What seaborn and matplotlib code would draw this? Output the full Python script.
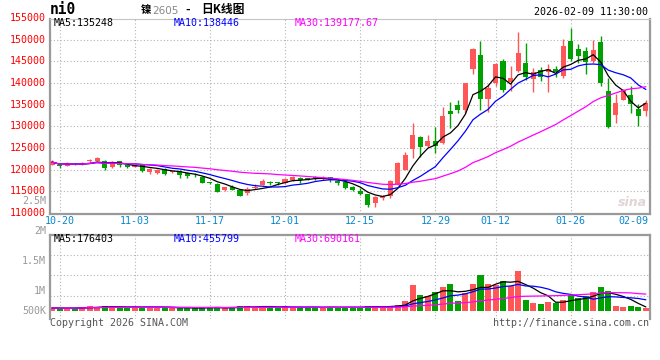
import numpy as np
import pandas as pd
import matplotlib
matplotlib.use("Agg")
import matplotlib.pyplot as plt
import seaborn as sns

# --- daily K-line data (10-17 .. 02-09) ---
opens = [121200, 121150, 120950, 121300, 121250, 122100, 122000, 122100, 120600, 121950,
         121000, 120700, 121000, 119550, 119200, 120300, 119400, 119700, 119300, 118900,
         118400, 117050, 116800, 115300, 116120, 115230, 114550, 115750, 116420, 117010,
         117050, 116860, 117540, 118210, 118000, 118150, 117900, 118350, 117500, 117260,
         116100, 115150, 114390, 112240, 113400, 114000, 116700, 119930, 124770, 127620,
         125470, 126620, 126230, 133460, 134930, 133770, 143240, 146470, 136310, 139940,
         145080, 140230, 142810, 144700, 140920, 143040, 142660, 143190, 141670, 149620,
         147960, 147350, 145160, 149390, 138110, 132670, 136070, 137360, 133950, 133570]
highs = [122200, 121300, 121900, 121500, 121700, 122600, 122900, 122200, 121950, 122000,
         121100, 121150, 121050, 120450, 120150, 120400, 119800, 119850, 119400, 119200,
         118500, 117250, 116900, 116100, 116420, 115670, 116120, 116640, 117990, 117310,
         117300, 118210, 118660, 118300, 118100, 118600, 118600, 118400, 117700, 117400,
         116300, 115700, 114500, 114000, 114150, 117700, 121840, 124150, 130700, 127800,
         128000, 129920, 134400, 135690, 136080, 140100, 148000, 149700, 139770, 144550,
         145460, 144020, 151740, 149240, 143420, 143800, 144320, 144020, 150230, 152650,
         149090, 148330, 150000, 150980, 141140, 137580, 138720, 139400, 135090, 136070]
lows = [121000, 120400, 120900, 121100, 121200, 121700, 121950, 120000, 120500, 120700,
        120450, 120600, 119550, 119100, 119000, 118850, 119300, 118200, 118100, 118300,
        116900, 116700, 114780, 115150, 115300, 113900, 114250, 115520, 116400, 116500,
        116600, 116800, 117500, 117010, 117600, 117550, 117600, 117300, 116400, 115600,
        115200, 114150, 111460, 111460, 113000, 113600, 116500, 119900, 122620, 123000,
        125300, 123920, 126000, 129690, 133000, 133000, 142010, 133770, 133380, 139250,
        138000, 138110, 142500, 140760, 137890, 140380, 137890, 141520, 141140, 145000,
        144550, 142130, 144700, 139250, 129700, 130770, 136000, 133040, 130170, 132440]
closes = [121800, 120800, 121400, 121250, 121450, 122200, 122700, 120500, 121600, 121050,
          120650, 121000, 119700, 120300, 120000, 119100, 119650, 118900, 118600, 118700,
          116950, 117000, 114950, 115970, 115380, 114030, 115670, 116120, 117310, 116940,
          116980, 117910, 118360, 117760, 117750, 118100, 118150, 117750, 116850, 115770,
          115350, 114390, 111850, 113630, 114000, 117460, 121610, 123390, 128000, 125300,
          126620, 125470, 132390, 132780, 133770, 139940, 147850, 136310, 138780, 144320,
          138340, 141140, 146970, 141370, 142510, 141520, 143190, 142660, 148560, 145610,
          146290, 144780, 147580, 140010, 129790, 135470, 138490, 135240, 132440, 135310]
volumes = [150000, 130000, 130000, 150000, 180000, 230000, 180000, 230000, 180000, 180000,
           180000, 180000, 180000, 180000, 180000, 180000, 130000, 130000, 180000, 130000,
           180000, 180000, 180000, 130000, 180000, 230000, 230000, 180000, 230000, 180000,
           130000, 230000, 130000, 180000, 180000, 180000, 180000, 180000, 177000, 177000,
           177000, 177000, 235000, 235000, 177000, 235000, 279000, 456000, 1165000, 722000,
           678000, 868000, 1090000, 1210000, 470000, 797000, 1210000, 1610000, 1210000, 1165000,
           1340000, 1120000, 1800000, 500000, 381000, 323000, 425000, 381000, 500000, 722000,
           576000, 678000, 868000, 1090000, 912000, 220000, 190000, 215000, 205000, 140000]

tick_labels = ["10-20", "11-03", "11-17", "12-01", "12-15", "12-29", "01-12", "01-26", "02-09"]
tick_days = [1, 11, 21, 31, 41, 51, 59, 69, 79]
price_ticks = [155000, 150000, 145000, 140000, 135000, 130000, 125000, 120000, 115000, 110000]

ma_text = ["MA5:135248", "MA10:138446", "MA30:139177.67"]
vma_text = ["MA5:176403", "MA10:455799", "MA30:690161"]
vol_axis_text = ["2.5M", "2M", "1.5M", "1M", "500K"]

UP = "#ff5757"
DOWN = "#00a000"
MA_COLORS = ["black", "#0000ff", "#ff00ff"]
GRID = "#b4b4b4"
BORDER = "#9a9a9a"
MONO = "DejaVu Sans Mono"

df = pd.DataFrame({"open": opens, "high": highs, "low": lows, "close": closes, "vol": volumes})
df["day"] = np.arange(len(df))
df["dir"] = np.where(df["close"] >= df["open"], "up", "down")
for n in (5, 10, 30):
    df[f"ma{n}"] = df["close"].rolling(n, min_periods=1).mean()
    df[f"vma{n}"] = df["vol"].rolling(n, min_periods=1).mean()

sns.set_theme(style="white")
plt.rcParams["font.family"] = [MONO, "Noto Sans CJK SC"]

W, H = 660, 360
fig = plt.figure(figsize=(W / 100, H / 100), dpi=100)
ax = fig.add_axes([50 / W, 1 - 214 / H, 600 / W, 195 / H])
axv = fig.add_axes([50 / W, 1 - 318.5 / H, 600 / W, 83.5 / H])


def ftext(x, y, s, **kw):
    # text placed in figure pixels (origin top-left like the screenshot)
    kw.setdefault("fontfamily", MONO)
    kw.setdefault("fontsize", 7.2)
    kw.setdefault("va", "center")
    fig.text(x / W, 1 - y / H, s, **kw)


# --- price panel ---
xlim = (-0.27, 79.55)
for d in tick_days[:-1]:
    ax.axvline(d, color=GRID, lw=0.8, ls=(0, (1, 2)), zorder=0)
    axv.axvline(d, color=GRID, lw=0.8, ls=(0, (1, 2)), zorder=0)
for v in price_ticks[1:-1]:
    ax.axhline(v, color=GRID, lw=0.8, ls=(0, (1, 2)), zorder=0)

colors = df["dir"].map({"up": UP, "down": DOWN})
ax.vlines(df["day"], df["low"], df["high"], colors=colors, lw=1, zorder=2)
body = (df["close"] - df["open"]).abs()
body_h = np.maximum(body, 200)
body_lo = np.minimum(df["open"], df["close"]) - (body_h - body) / 2
ax.bar(df["day"], body_h, bottom=body_lo, width=0.68, color=colors, lw=0, zorder=3)

for n, c in zip((5, 10, 30), MA_COLORS):
    sns.lineplot(data=df, x="day", y=f"ma{n}", color=c, lw=0.9, ax=ax, zorder=4)

ax.set_xlim(*xlim)
ax.set_ylim(109800, 154800)

for v in price_ticks:
    ax.text(-0.007, v, str(v), transform=ax.get_yaxis_transform(), ha="right", va="center",
            color="#ff0000", fontfamily=MONO, fontsize=7.2, clip_on=False)
for d, lab in zip(tick_days, tick_labels):
    if d == tick_days[-1]:
        ax.text(0.998, -0.036, lab, transform=ax.transAxes, ha="right", va="center",
                color="#0a86cc", fontfamily=MONO, fontsize=7.2)
    else:
        ax.text(d, -0.036, lab, transform=ax.get_xaxis_transform(), ha="center", va="center",
                color="#0a86cc", fontfamily=MONO, fontsize=7.2)

for x0, s, c in zip((54, 174, 295), ma_text, MA_COLORS):
    ftext(x0, 23.5, s, color=c)

# --- volume panel ---
sns.barplot(data=df, x="day", y="vol", hue="dir", palette={"up": UP, "down": DOWN},
            native_scale=True, dodge=False, width=0.8, saturation=1, errorbar=None,
            legend=False, linewidth=0, ax=axv, zorder=2)
for n, c in zip((5, 10, 30), MA_COLORS):
    sns.lineplot(data=df, x="day", y=f"vma{n}", color=c, lw=0.9, ax=axv, zorder=4)
for v in (680000, 1600000, 2490000):
    axv.axhline(v, color=GRID, lw=0.8, ls=(0, (1, 2)), zorder=0)
axv.set_xlim(*xlim)
axv.set_ylim(-319000, 3380000)

for x0, s, c in zip((54, 174, 295), vma_text, MA_COLORS):
    ftext(x0, 238.5, s, color=c)

# Sina's odd volume scale labels
for y0, s in zip((201, 231, 261, 291, 311), vol_axis_text):
    ftext(46, y0, s, ha="right", color="#999999")

# spines / ticks
for a in (ax, axv):
    a.set_xticks([])
    a.set_yticks([])
    a.set_xlabel("")
    a.set_ylabel("")
    for side in ("left", "right", "bottom", "top"):
        a.spines[side].set_color(BORDER)
        a.spines[side].set_linewidth(1.6)
ax.spines["top"].set_color("#c4c4c4")
ax.spines["top"].set_linewidth(0.8)
axv.spines["bottom"].set_visible(False)

# --- header / footer texts ---
ftext(50, 10, "ni0", fontsize=10.5, fontweight="bold", color="black")
ftext(141, 10, "镍", fontfamily=["Noto Sans CJK SC", "DejaVu Sans"], fontsize=7.5,
      fontweight="bold", color="black")
ftext(152, 10.5, "2605", fontfamily="DejaVu Sans", fontsize=7.5, color="#888888")
ftext(184, 10, "-", fontsize=8, fontweight="bold", color="black")
ftext(201, 10, "日K线图", fontfamily=["Noto Sans CJK SC", "DejaVu Sans"], fontsize=8.5,
      fontweight="bold", color="black")
ftext(648, 12, "2026-02-09 11:30:00", ha="right", color="black")
ftext(50, 323, "Copyright 2026 SINA.COM", color="#555555")
ftext(649, 323, "http://finance.sina.com.cn", ha="right", color="#555555")
ftext(632, 203, "sina", fontfamily="DejaVu Sans", fontsize=9, fontweight="bold",
      fontstyle="italic", ha="center", color="#e2d4d4")

fig.savefig("out.png", dpi=100)
plt.close(fig)
